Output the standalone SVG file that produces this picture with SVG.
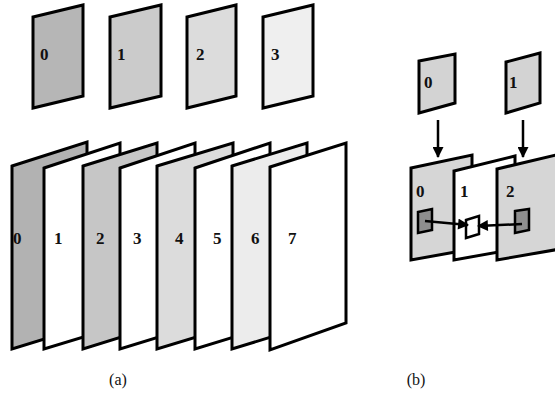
<svg xmlns="http://www.w3.org/2000/svg" width="555" height="402" viewBox="0 0 555 402">
<defs>
<style>
.f{stroke:#000;stroke-width:3;stroke-linejoin:miter}
.t{font-family:"Liberation Serif",serif;font-weight:bold;font-size:17px;fill:#111}
.c{font-family:"Liberation Serif",serif;font-size:16px;fill:#111;text-anchor:middle}
.sq{stroke:#000;stroke-width:2.5}
.ln{stroke:#000;stroke-width:2.5;fill:none}
</style>
<marker id="ah" viewBox="0 0 10 10" refX="9" refY="5" markerWidth="5" markerHeight="4.4" orient="auto" markerUnits="strokeWidth">
<path d="M0,0 L10,5 L0,10 z" fill="#000"/>
</marker>
</defs>
<rect width="555" height="402" fill="#fff"/>

<!-- (a) top row -->
<g id="a-top-0"><polygon class="f" fill="#b6b6b6" points="33,17 83,5 83,96 33,108"/><text class="t" x="40" y="60">0</text></g>
<g id="a-top-1"><polygon class="f" fill="#cbcbcb" points="110,17 161,5 161,96 110,108"/><text class="t" x="117" y="60">1</text></g>
<g id="a-top-2"><polygon class="f" fill="#dcdcdc" points="187,17 236,5 236,96 187,108"/><text class="t" x="196" y="60">2</text></g>
<g id="a-top-3"><polygon class="f" fill="#efefef" points="263,17 313,5 313,96 263,108"/><text class="t" x="271" y="60">3</text></g>

<!-- (a) bottom row -->
<g id="a-bot-0"><polygon class="f" fill="#b2b2b2" points="12,166 87,142 87,326 12,349"/><text class="t" x="13" y="244">0</text></g>
<g id="a-bot-1"><polygon class="f" fill="#ffffff" points="44,168 120,143 120,326 44,349"/><text class="t" x="54" y="244">1</text></g>
<g id="a-bot-2"><polygon class="f" fill="#c6c6c6" points="83,166 157,143 157,326 83,349"/><text class="t" x="96" y="244">2</text></g>
<g id="a-bot-3"><polygon class="f" fill="#ffffff" points="120,168 195,143 195,326 120,349"/><text class="t" x="133" y="244">3</text></g>
<g id="a-bot-4"><polygon class="f" fill="#dcdcdc" points="157,166 233,143 233,326 157,349"/><text class="t" x="175" y="244">4</text></g>
<g id="a-bot-5"><polygon class="f" fill="#ffffff" points="195,168 270,143 270,326 195,349"/><text class="t" x="213" y="244">5</text></g>
<g id="a-bot-6"><polygon class="f" fill="#ececec" points="232,166 307,143 307,326 232,349"/><text class="t" x="251" y="244">6</text></g>
<g id="a-bot-7"><polygon class="f" fill="#ffffff" points="270,167 346,143 346,323 270,350"/><text class="t" x="288" y="244">7</text></g>

<!-- (b) top -->
<g id="b-top-0"><polygon class="f" fill="#d3d3d3" points="419,61 455,54 455,103 419,113"/><text class="t" x="424" y="88">0</text></g>
<g id="b-top-1"><polygon class="f" fill="#d3d3d3" points="506,62 540,53 540,103 506,113"/><text class="t" x="509" y="88">1</text></g>

<!-- (b) bottom -->
<g id="b-bot-0"><polygon class="f" fill="#d6d6d6" points="411,168 472,155 472,249 411,260"/><text class="t" x="416" y="197">0</text></g>
<g id="b-bot-1"><polygon class="f" fill="#ffffff" points="454,171 515,156 515,249 454,260"/><text class="t" x="460" y="197">1</text></g>
<g id="b-bot-2"><polygon class="f" fill="#d6d6d6" points="497,169 560,154 560,249 497,260"/><text class="t" x="506" y="197">2</text></g>

<g id="b-squares">
<polygon class="sq" fill="#8e8e8e" points="418,212 432,209 432,230 418,233"/>
<polygon class="sq" fill="#ffffff" points="466,220 479,216 479,234 466,238"/>
<polygon class="sq" fill="#8e8e8e" points="515,211 529,209 529,230 515,233"/>
</g>

<g id="connectors">
<line class="ln" x1="438" y1="120" x2="438" y2="157" marker-end="url(#ah)"/>
<line class="ln" x1="523" y1="120" x2="523" y2="157" marker-end="url(#ah)"/>
<line class="ln" x1="425" y1="221" x2="468" y2="225" marker-end="url(#ah)"/>
<line class="ln" x1="522" y1="224" x2="478" y2="226" marker-end="url(#ah)"/>
</g>

<text class="c" x="118" y="385">(a)</text>
<text class="c" x="416" y="385">(b)</text>
</svg>
